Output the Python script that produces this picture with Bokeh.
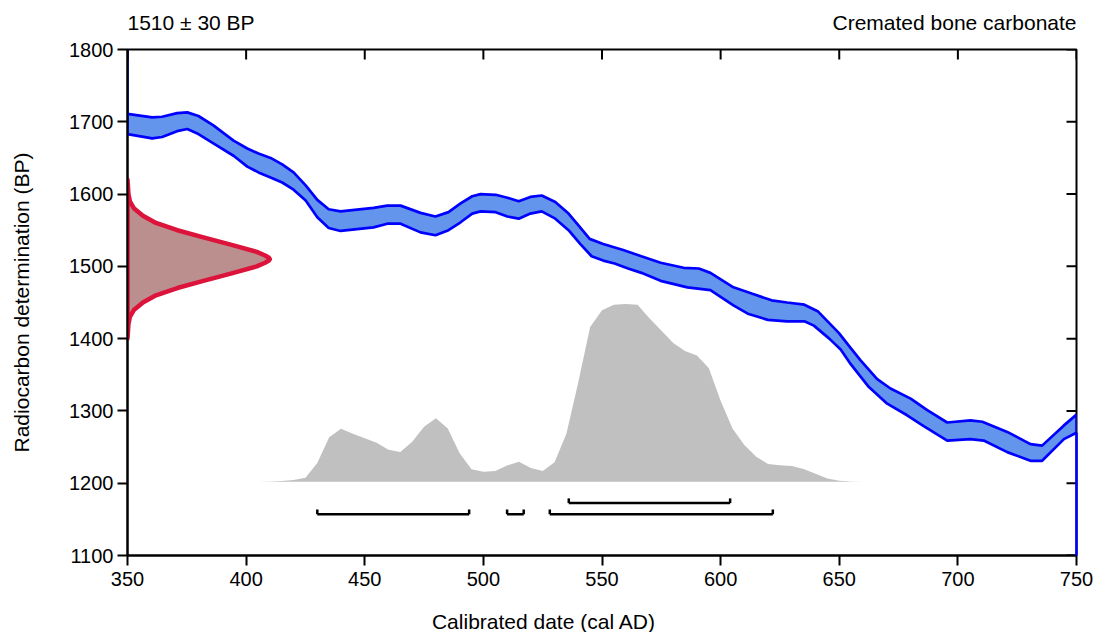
from bokeh.plotting import figure
from bokeh.models import Range1d, FixedTicker
from bokeh.layouts import column
from bokeh.core.properties import value
from bokeh.embed import file_html
from bokeh.resources import INLINE

# ---------------- data ----------------
x_ticks = [350, 400, 450, 500, 550, 600, 650, 700, 750]
y_ticks = [1100, 1200, 1300, 1400, 1500, 1600, 1700, 1800]

date_mean_bp = 1510
date_sd = 30
sample_type = "Cremated bone carbonate"
x_label = "Calibrated date (cal AD)"
y_label = "Radiocarbon determination (BP)"

# calibration curve band (upper and lower edges), cal AD vs BP
curve_upper_year = [350, 360.4, 364.6, 370.9, 375.2, 379.9, 386.2, 394.7, 400.5, 405.2,
                    410.3, 415.2, 420, 425.1, 430, 434.8, 439.8, 453.7, 459.5, 465.1,
                    473.5, 479.8, 485.3, 490.4, 495.3, 498.8, 505.2, 510.1, 514.9, 519.8,
                    524.6, 530.3, 535.9, 540.0, 544.8, 550.5, 558.6, 566.6, 574.7, 584.4,
                    590.8, 595.7, 605.4, 613.4, 621.5, 628, 635.3, 640.9, 649.8, 654.6,
                    659, 666, 671.6, 680.1, 687.1, 695.5, 705.3, 710.3, 720.8, 730.6,
                    735.5, 744.7, 750]
curve_upper_bp = [1711, 1706, 1707, 1712, 1713, 1708, 1695, 1674, 1663, 1656,
                  1650, 1641, 1630, 1612, 1592, 1579, 1576, 1581, 1584, 1584,
                  1574, 1569, 1575, 1587, 1597, 1600, 1599, 1595, 1590, 1596,
                  1598, 1589, 1573, 1557, 1538, 1531, 1523, 1514, 1505, 1498,
                  1497, 1491, 1471, 1462, 1453, 1450, 1447, 1438, 1408, 1388,
                  1370, 1344, 1331, 1317, 1301, 1284, 1287, 1285, 1271, 1254,
                  1252, 1280, 1295]
curve_lower_year = [350, 360.4, 364.6, 370.9, 375.2, 379.9, 386.2, 394.7, 400.5, 405.2,
                    410.3, 415.2, 420, 425.1, 430, 434.8, 439.8, 453.7, 459.5, 465.1,
                    473.5, 479.8, 485.3, 490.4, 495.3, 498.8, 505.2, 510.1, 514.9, 519.8,
                    524.6, 530.3, 535.9, 540.8, 545.6, 550.5, 555.3, 561, 566.6, 574.7,
                    586, 595.7, 605.4, 611.8, 619.9, 628, 635.3, 639.3, 645.8, 650.6,
                    655, 662.5, 670.2, 678.6, 685.6, 695.5, 705.3, 710.9, 720.8, 730.6,
                    735.5, 744.7, 750]
curve_lower_bp = [1683, 1677, 1679, 1687, 1690, 1683, 1670, 1653, 1638, 1630,
                  1623, 1616, 1606, 1591, 1568, 1553, 1549, 1554, 1559, 1559,
                  1547, 1543, 1550, 1561, 1573, 1576, 1575, 1569, 1566, 1573,
                  1576, 1566, 1550, 1531, 1514, 1508, 1504, 1497, 1491, 1480,
                  1471, 1467, 1446, 1434, 1426, 1424, 1424, 1418, 1400, 1385,
                  1364, 1333, 1310, 1294, 1279, 1259, 1261, 1259, 1243, 1231,
                  1231, 1261, 1270]

# radiocarbon measurement likelihood (width in years, drawn from the left axis)
likelihood_bp = [1620, 1610, 1600, 1590, 1580, 1570, 1560, 1550, 1540, 1530, 1520, 1515,
                 1512, 1510, 1508, 1505, 1500, 1490, 1480, 1470, 1460, 1450, 1440, 1430,
                 1420, 1410, 1400]
likelihood_width = [0, 0.2, 0.4, 1.0, 2.8, 6.5, 12, 21, 32, 43.5, 54.5, 58,
                    59.6, 60, 59.6, 58, 54.5, 43.5, 32, 21, 12, 6.5, 2.8, 1.0,
                    0.4, 0.2, 0]

# calibrated (posterior) probability, relative
posterior_year = [400, 405, 410, 415, 420, 425, 430, 435, 440, 445, 450, 455, 460, 465,
                  470, 475, 480, 485, 490, 495, 500, 505, 510, 515, 520, 525, 530, 535,
                  540, 545, 550, 555, 560, 565, 570, 575, 580, 585, 590, 595, 600, 605,
                  610, 615, 620, 625, 630, 635, 640, 645, 650, 655, 660]
posterior_prob = [0, 0, 0.002, 0.004, 0.01, 0.022, 0.106, 0.25, 0.298, 0.27, 0.245, 0.22,
                  0.18, 0.168, 0.225, 0.31, 0.357, 0.30, 0.16, 0.07, 0.056, 0.06, 0.092,
                  0.112, 0.078, 0.06, 0.11, 0.27, 0.56, 0.87, 0.965, 0.995, 1.0, 0.995,
                  0.92, 0.85, 0.78, 0.735, 0.71, 0.64, 0.455, 0.30, 0.207, 0.14, 0.10,
                  0.093, 0.088, 0.072, 0.045, 0.018, 0.006, 0.001, 0]

# highest posterior density ranges (cal AD)
range68_start = [536]
range68_end = [604]
range95_start = [430, 510, 528]
range95_end = [494, 517, 622]

# ---------------- styling constants ----------------
FONT = "Liberation Sans"
TICK_FS = "20px"
LABEL_FS = "21px"
HEAD_FS = "21px"
post_base = 1202
post_scale = 246
row68_y = 1172.5
row95_y = 1157
bracket_h = 6.5

FRAME_W, FRAME_H = 949, 506
BORDER_L, BORDER_R = 127, 17
HEAD_H = 39
MAIN_TOP, MAIN_BOTTOM = 10, 50
FOOT_H = 632 - HEAD_H - MAIN_TOP - FRAME_H - MAIN_BOTTOM

x_lo, x_hi = x_ticks[0], x_ticks[-1]
y_lo, y_hi = y_ticks[0], y_ticks[-1]
tick_px = 10
tick_dy = tick_px * (y_hi - y_lo) / FRAME_H
tick_dx = tick_px * (x_hi - x_lo) / FRAME_W


def bare(fig):
    fig.xgrid.visible = False
    fig.ygrid.visible = False
    fig.outline_line_color = None
    fig.background_fill_color = "white"
    fig.border_fill_color = "white"


# ---------------- header ----------------
head = figure(x_range=Range1d(x_lo, x_hi), y_range=Range1d(0, HEAD_H),
              frame_width=FRAME_W, frame_height=HEAD_H,
              min_border_left=BORDER_L, min_border_right=BORDER_R,
              min_border_top=0, min_border_bottom=0,
              toolbar_location=None, output_backend="svg")
bare(head)
head.axis.visible = False
head.text(x=[x_lo], y=[17], text=[f"{date_mean_bp} ± {date_sd} BP"],
          text_align="left", text_baseline="alphabetic",
          text_font=value(FONT), text_font_size=value(HEAD_FS), text_color="black")
head.text(x=[x_hi], y=[17], text=[sample_type],
          text_align="right", text_baseline="alphabetic",
          text_font=value(FONT), text_font_size=value(HEAD_FS), text_color="black")

# ---------------- main plot ----------------
p = figure(x_range=Range1d(x_lo, x_hi), y_range=Range1d(y_lo, y_hi),
           frame_width=FRAME_W, frame_height=FRAME_H,
           min_border_left=BORDER_L, min_border_right=BORDER_R,
           min_border_top=MAIN_TOP, min_border_bottom=MAIN_BOTTOM,
           toolbar_location=None, output_backend="svg",
           y_axis_label=y_label)
bare(p)
p.outline_line_color = "black"
p.outline_line_width = 2

# posterior distribution
p.varea(x=posterior_year, y1=[post_base] * len(posterior_year),
        y2=[post_base + v * post_scale for v in posterior_prob],
        fill_color="#C0C0C0")


def brackets(starts, ends, yy):
    p.segment(x0=starts, y0=[yy] * len(starts), x1=ends, y1=[yy] * len(starts),
              line_color="black", line_width=2.5)
    xs = starts + ends
    p.segment(x0=xs, y0=[yy] * len(xs), x1=xs, y1=[yy + bracket_h] * len(xs),
              line_color="black", line_width=2.5)


brackets(range95_start, range95_end, row95_y)
brackets(range68_start, range68_end, row68_y)

# calibration curve band
band_x = curve_upper_year + curve_lower_year[::-1]
band_y = curve_upper_bp + curve_lower_bp[::-1]
p.patch(band_x, band_y, fill_color="#6495ED", line_color="#0000FF", line_width=2.7)
p.segment(x0=[x_lo], y0=[curve_upper_bp[0]], x1=[x_lo], y1=[y_hi],
          line_color="#0000FF", line_width=2.5)

# measurement likelihood
p.patch([x_lo + w for w in likelihood_width], likelihood_bp,
        fill_color="#BC8F8F", line_color="#DC143C", line_width=4.5, line_join="round")

# inward ticks on top and right edges
p.segment(x0=x_ticks, y0=[y_hi] * len(x_ticks), x1=x_ticks,
          y1=[y_hi - tick_dy] * len(x_ticks), line_color="black", line_width=2)
p.segment(x0=[x_hi] * len(y_ticks), y0=y_ticks, x1=[x_hi - tick_dx] * len(y_ticks),
          y1=y_ticks, line_color="black", line_width=2)

edge = p.segment(x0=[x_hi], y0=[curve_lower_bp[-1]], x1=[x_hi], y1=[y_lo],
                 line_color="#0000FF", line_width=2.5)
edge.level = "overlay"


def style_axis(ax, ticks, standoff, label_standoff):
    ax.ticker = FixedTicker(ticks=ticks)
    ax.axis_line_width = 2
    ax.axis_line_color = "black"
    ax.major_tick_line_width = 2
    ax.major_tick_line_color = "black"
    ax.major_tick_out = tick_px
    ax.major_tick_in = 0
    ax.minor_tick_line_color = None
    ax.major_label_standoff = standoff
    ax.major_label_text_font = FONT
    ax.major_label_text_font_size = TICK_FS
    ax.major_label_text_color = "black"
    ax.axis_label_standoff = label_standoff
    ax.axis_label_text_font = FONT
    ax.axis_label_text_font_size = LABEL_FS
    ax.axis_label_text_font_style = "normal"
    ax.axis_label_text_color = "black"


for ax in p.xaxis:
    style_axis(ax, x_ticks, 6, 0)
for ax in p.yaxis:
    style_axis(ax, y_ticks, 4, 33)

# ---------------- footer (x-axis title) ----------------
# footer x range expressed in page pixels, aligned with the main frame
foot = figure(x_range=Range1d(BORDER_L, BORDER_L + FRAME_W), y_range=Range1d(0, FOOT_H),
              frame_width=FRAME_W, frame_height=FOOT_H,
              min_border_left=BORDER_L, min_border_right=BORDER_R,
              min_border_top=0, min_border_bottom=0,
              toolbar_location=None, output_backend="svg")
bare(foot)
foot.axis.visible = False
foot.text(x=[543.5], y=[11], text=[x_label],
          text_align="center", text_baseline="alphabetic",
          text_font=value(FONT), text_font_size=value(LABEL_FS), text_color="black")

layout = column(head, p, foot, spacing=0)
open("out.html", "w").write(file_html(layout, INLINE))
